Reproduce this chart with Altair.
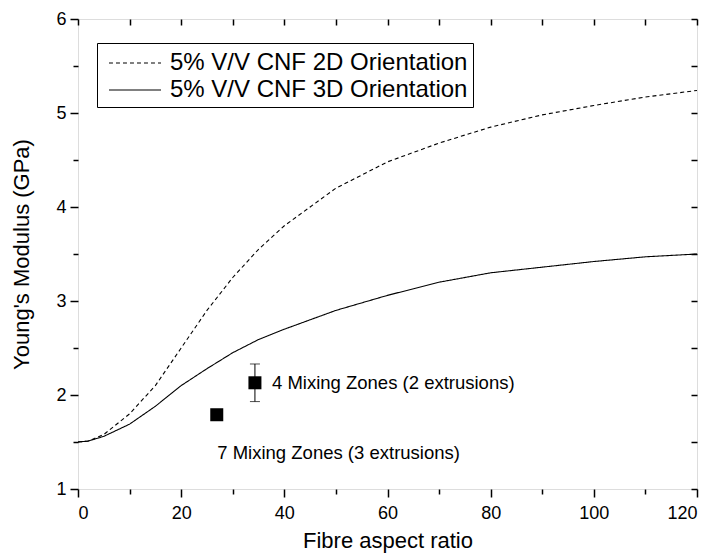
import altair as alt
import pandas as pd

# ---- data ----
x_vals = [0, 2, 5, 10, 15, 20, 25, 30, 35, 40, 45, 50, 60, 70, 80, 90, 100, 110, 120]
mod_2d = [1.50, 1.51, 1.58, 1.80, 2.10, 2.50, 2.90, 3.25, 3.55, 3.80, 4.00, 4.20, 4.48, 4.68, 4.85, 4.98, 5.08, 5.17, 5.24]
mod_3d = [1.50, 1.51, 1.56, 1.69, 1.88, 2.10, 2.28, 2.45, 2.59, 2.70, 2.80, 2.90, 3.06, 3.20, 3.30, 3.36, 3.42, 3.47, 3.50]
series_names = ["5% V/V CNF 2D Orientation", "5% V/V CNF 3D Orientation"]

pt_x = [26.9, 34.3]
pt_y = [1.79, 2.13]
pt_err = [0.0, 0.20]

ann_text = ["4 Mixing Zones (2 extrusions)", "7 Mixing Zones (3 extrusions)"]
ann_x = [37.6, 27.0]
ann_y = [2.13, 1.38]

x_ticks = list(range(0, 121, 10))
y_ticks = [1, 1.5, 2, 2.5, 3, 3.5, 4, 4.5, 5, 5.5, 6]

FONT = "Liberation Sans"

curves = pd.DataFrame({
    "x": x_vals * 2,
    "y": mod_2d + mod_3d,
    "series": [series_names[0]] * len(x_vals) + [series_names[1]] * len(x_vals),
})
pts = pd.DataFrame({"x": pt_x, "y": pt_y, "lo": [a - b for a, b in zip(pt_y, pt_err)],
                    "hi": [a + b for a, b in zip(pt_y, pt_err)]})
errs = pts[pts["hi"] > pts["lo"]]
ann = pd.DataFrame({"x": ann_x, "y": ann_y, "t": ann_text})

xscale = alt.Scale(domain=[0, 120], nice=False, zero=False)
yscale = alt.Scale(domain=[1, 6], nice=False, zero=False)

x_axis = alt.Axis(values=x_ticks, title="Fibre aspect ratio", grid=False, domain=False,
                  labelExpr="datum.value % 20 == 0 ? format(datum.value, 'd') : ''",
                  tickSize={"condition": {"test": "datum.value % 20 != 0", "value": 5}, "value": 8},
                  tickColor="black", tickWidth=1.5, labelColor="black", titleColor="black",
                  labelFontSize=18, titleFontSize=22, labelFont=FONT, titleFont=FONT,
                  titleFontWeight="normal", labelPadding=7, titlePadding=8)
y_axis = alt.Axis(values=y_ticks, title="Young's Modulus (GPa)", grid=False, domain=False,
                  labelExpr="datum.value % 1 == 0 ? format(datum.value, 'd') : ''",
                  tickSize={"condition": {"test": "datum.value % 1 != 0", "value": 5}, "value": 8},
                  tickColor="black", tickWidth=1.5, labelColor="black", titleColor="black",
                  labelFontSize=18, titleFontSize=22, labelFont=FONT, titleFont=FONT,
                  titleFontWeight="normal", labelPadding=4, titlePadding=22)

lines = alt.Chart(curves).mark_line(color="black", strokeWidth=1.1).encode(
    x=alt.X("x:Q", scale=xscale, axis=x_axis),
    y=alt.Y("y:Q", scale=yscale, axis=y_axis),
    strokeDash=alt.StrokeDash(
        "series:N",
        scale=alt.Scale(domain=series_names, range=[[4, 3], [1, 0]]),
        legend=alt.Legend(orient="none", legendX=19, legendY=24, title=None,
                          strokeColor="black", fillColor="white", padding=5,
                          symbolType="M-1.86,0L1.86,0", symbolSize=784, symbolStrokeWidth=1.1,
                          symbolStrokeColor="black", symbolOffset=18,
                          labelFontSize=24, labelFont=FONT, labelBaseline="middle",
                          labelColor="black", rowPadding=0, labelOffset=20, labelLimit=500),
    ),
    detail="series:N",
)

mirror = alt.Chart(curves).mark_point(opacity=0).encode(
    x=alt.X("x:Q", scale=xscale,
            axis=alt.Axis(orient="top", values=x_ticks, labels=False, title=None, domain=False,
                          grid=False, ticks=True, tickSize=6, offset=-6, tickColor="black", tickWidth=1.5)),
    y=alt.Y("y:Q", scale=yscale,
            axis=alt.Axis(orient="right", values=y_ticks, labels=False, title=None, domain=False,
                          grid=False, ticks=True, tickSize=6, offset=-6, tickColor="black", tickWidth=1.5)),
)

squares = alt.Chart(pts).mark_square(color="black", size=169, opacity=1).encode(
    x=alt.X("x:Q", scale=xscale, axis=None), y=alt.Y("y:Q", scale=yscale, axis=None))

err_rule = alt.Chart(errs).mark_rule(color="black", strokeWidth=1).encode(
    x=alt.X("x:Q", scale=xscale, axis=None), y=alt.Y("lo:Q", scale=yscale, axis=None), y2="hi:Q")
err_lo = alt.Chart(errs).mark_tick(color="black", orient="horizontal", size=10, thickness=1).encode(
    x=alt.X("x:Q", scale=xscale, axis=None), y=alt.Y("lo:Q", scale=yscale, axis=None))
err_hi = alt.Chart(errs).mark_tick(color="black", orient="horizontal", size=10, thickness=1).encode(
    x=alt.X("x:Q", scale=xscale, axis=None), y=alt.Y("hi:Q", scale=yscale, axis=None))

labels = alt.Chart(ann).mark_text(align="left", baseline="middle", fontSize=18.5, font=FONT,
                                  color="black").encode(
    x=alt.X("x:Q", scale=xscale, axis=None), y=alt.Y("y:Q", scale=yscale, axis=None), text="t:N")

chart = alt.layer(lines, mirror, squares, err_rule, err_lo, err_hi, labels).resolve_axis(
    x="independent", y="independent"
).properties(
    width=619, height=470,
    autosize=alt.AutoSizeParams(type="none"),
    padding={"left": 70, "top": 11, "right": 8, "bottom": 66},
).configure_view(stroke="black", strokeWidth=1.5).configure(background="white")

chart.save("out.html", embed_options={"renderer": "svg", "actions": False})
